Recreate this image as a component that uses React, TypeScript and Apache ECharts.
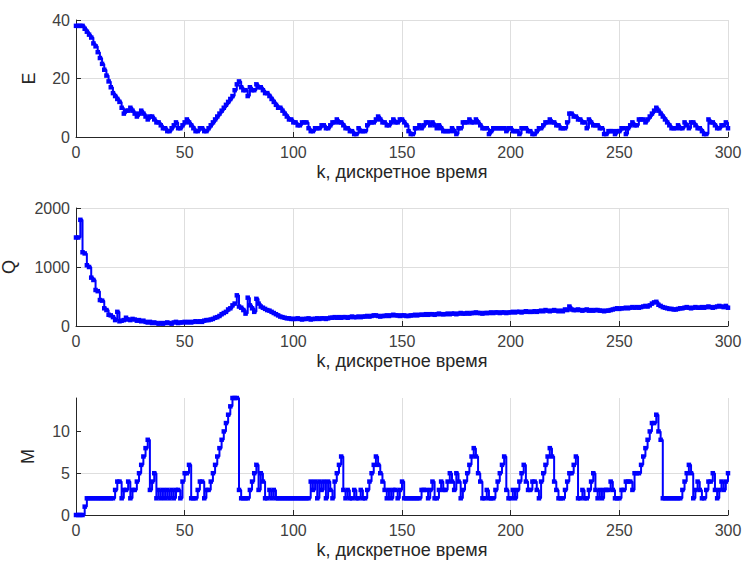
import React, { useEffect, useRef } from "react";
import * as echarts from "echarts";

// E(k), k = 0..300
const E: number[] = [
  38, 38, 38, 38, 37, 36, 35, 34, 32, 31,
  29, 27, 25, 23, 21, 19, 17, 15, 14, 13,
  12, 10, 8, 9, 9, 10, 9, 8, 7, 8,
  9, 8, 7, 6, 7, 7, 6, 5, 5, 4,
  3, 3, 2, 2, 3, 4, 5, 3, 3, 4,
  5, 6, 5, 4, 3, 2, 2, 3, 3, 2,
  2, 3, 4, 5, 6, 7, 8, 9, 10, 11,
  12, 13, 14, 16, 18, 19, 17, 16, 16, 14,
  17, 16, 16, 18, 17, 17, 16, 15, 15, 14,
  13, 12, 11, 10, 10, 9, 8, 7, 6, 6,
  5, 5, 4, 4, 5, 5, 5, 3, 2, 2,
  3, 3, 3, 4, 4, 3, 3, 4, 5, 5,
  6, 5, 5, 4, 3, 3, 2, 2, 1, 1,
  3, 2, 2, 2, 4, 5, 5, 5, 6, 7,
  6, 5, 5, 4, 4, 5, 6, 5, 5, 6,
  6, 5, 4, 2, 1, 1, 3, 3, 4, 3,
  4, 5, 5, 4, 5, 4, 3, 4, 3, 2,
  2, 2, 2, 3, 2, 1, 3, 3, 5, 5,
  5, 6, 5, 5, 6, 5, 4, 3, 3, 3,
  1, 2, 3, 3, 3, 3, 3, 3, 2, 3,
  3, 2, 2, 2, 1, 3, 3, 3, 2, 2,
  1, 1, 2, 3, 3, 4, 5, 5, 6, 5,
  5, 4, 4, 3, 3, 3, 5, 8, 8, 7,
  7, 6, 6, 5, 5, 3, 6, 5, 4, 4,
  4, 3, 3, 1, 1, 2, 2, 2, 1, 2,
  2, 3, 3, 1, 3, 4, 5, 4, 4, 6,
  6, 6, 5, 6, 7, 8, 9, 10, 9, 8,
  7, 6, 5, 4, 3, 3, 3, 4, 3, 3,
  5, 4, 3, 5, 5, 4, 3, 3, 2, 1,
  1, 6, 5, 5, 4, 3, 3, 4, 4, 5,
  3,
];

// Q(k), k = 0..300
const Q: number[] = [
  1500, 1500, 1800, 1250, 1230, 1030, 1000, 820, 780, 610,
  590, 440, 430, 300, 270, 190, 180, 150, 100, 240,
  80, 90, 100, 140, 110, 100, 120, 110, 90, 100,
  80, 90, 70, 60, 70, 50, 60, 50, 40, 50,
  40, 50, 60, 50, 40, 60, 70, 50, 60, 60,
  70, 60, 70, 60, 70, 80, 70, 80, 70, 90,
  100, 100, 110, 120, 140, 150, 170, 200, 220, 240,
  280, 300, 350, 380, 520, 330, 310, 270, 210, 480,
  350, 300, 240, 460, 380, 330, 310, 290, 270, 260,
  240, 220, 200, 180, 160, 150, 140, 130, 130, 120,
  120, 120, 130, 120, 110, 120, 120, 130, 110, 120,
  120, 130, 120, 130, 130, 120, 130, 140, 140, 150,
  140, 150, 140, 150, 150, 140, 150, 160, 150, 150,
  160, 150, 160, 160, 170, 160, 170, 180, 180, 170,
  160, 170, 170, 180, 170, 180, 190, 180, 180, 170,
  180, 180, 170, 170, 180, 180, 190, 180, 190, 190,
  190, 200, 190, 200, 200, 190, 200, 210, 200, 200,
  200, 210, 200, 210, 210, 200, 210, 220, 210, 210,
  220, 210, 220, 220, 230, 220, 220, 210, 220, 220,
  220, 230, 220, 230, 230, 220, 230, 230, 220, 230,
  230, 240, 230, 240, 240, 230, 240, 250, 240, 240,
  240, 250, 240, 250, 260, 250, 270, 260, 250, 260,
  270, 260, 250, 260, 250, 280, 270, 330, 280, 270,
  270, 280, 270, 260, 270, 280, 260, 270, 260, 270,
  270, 260, 260, 250, 260, 260, 270, 280, 290, 300,
  290, 300, 300, 310, 300, 310, 320, 310, 320, 310,
  320, 330, 340, 330, 350, 380, 400, 410, 360, 340,
  320, 310, 300, 290, 290, 280, 280, 290, 300, 300,
  310, 320, 310, 300, 310, 320, 310, 310, 320, 310,
  320, 330, 320, 310, 320, 330, 340, 330, 320, 340,
  310,
];

// M(k), k = 0..300
const M: number[] = [
  0, 0, 0, 0, 1, 2, 2, 2, 2, 2,
  2, 2, 2, 2, 2, 2, 2, 2, 3, 4,
  4, 2, 3, 3, 4, 2, 3, 3, 4, 5,
  6, 7, 8, 9, 3, 4, 5, 2, 3, 2,
  3, 2, 3, 2, 3, 2, 3, 3, 2, 4,
  5, 5, 6, 2, 2, 2, 3, 4, 4, 2,
  3, 3, 4, 5, 6, 7, 8, 9, 10, 11,
  12, 13, 14, 14, 14, 3, 2, 2, 2, 2,
  3, 4, 5, 6, 3, 5, 4, 2, 2, 3,
  2, 3, 2, 2, 2, 2, 2, 2, 2, 2,
  2, 2, 2, 2, 2, 2, 2, 2, 4, 3,
  4, 2, 4, 3, 4, 2, 4, 3, 2, 4,
  5, 6, 7, 3, 2, 3, 2, 2, 3, 2,
  2, 3, 2, 2, 3, 4, 5, 6, 7, 6,
  5, 4, 3, 2, 3, 2, 3, 3, 2, 3,
  4, 2, 2, 2, 2, 2, 2, 2, 2, 3,
  3, 3, 2, 3, 4, 2, 2, 3, 4, 3,
  3, 4, 5, 4, 3, 5, 4, 2, 3, 4,
  5, 6, 7, 8, 7, 5, 4, 2, 2, 3,
  2, 2, 2, 3, 4, 5, 6, 7, 3, 2,
  2, 3, 2, 3, 4, 5, 6, 4, 3, 3,
  4, 4, 3, 2, 4, 5, 6, 7, 8, 7,
  4, 3, 2, 2, 2, 3, 4, 5, 5, 6,
  7, 2, 2, 3, 2, 2, 3, 4, 5, 3,
  2, 3, 2, 3, 3, 3, 4, 3, 2, 2,
  2, 3, 3, 4, 4, 4, 3, 5, 5, 5,
  6, 7, 8, 9, 10, 11, 11, 12, 10, 9,
  2, 2, 2, 2, 2, 2, 2, 2, 2, 3,
  4, 5, 6, 5, 2, 3, 4, 3, 2, 2,
  3, 4, 4, 5, 3, 2, 3, 4, 3, 4,
  5,
];

const X_TICKS = [0, 50, 100, 150, 200, 250, 300];
const X_TITLE = "k, дискретное время";
const Y_TITLES = ["E", "Q", "M"];
const Y_MAX = [40, 2000, 14];
const Y_INTERVAL = [20, 1000, 5];
const Y_TICKS = [[0, 20, 40], [0, 1000, 2000], [0, 5, 10]];

const FONT = "'Liberation Sans', Arial, Helvetica, sans-serif";
const LINE_COLOR = "#0000ff";
const AXIS_COLOR = "#262626";
const LABEL_COLOR = "#404040";
const GRID_COLOR = "#dedede";

export default function App() {
  const ref = useRef<HTMLDivElement>(null);
  useEffect(() => {
    if (!ref.current) return;
    const chart = echarts.init(ref.current, undefined, { renderer: "svg" });
    const tops = [20, 208, 398];
    const heights = [117, 118, 117];
    const nameGaps = [38, 58, 39];
    const series = [E, Q, M];

    const option: any = {
      animation: false,
      backgroundColor: "#ffffff",
      grid: tops.map((t, i) => ({
        left: 76,
        top: t,
        width: 652,
        height: heights[i],
        containLabel: false,
        outerBoundsMode: "none",
      })),
      xAxis: tops.map((_, i) => ({
        type: "value",
        gridIndex: i,
        min: 0,
        max: 300,
        interval: 50,
        name: X_TITLE,
        nameLocation: "middle",
        nameGap: 26,
        nameMoveOverlap: false,
        nameTextStyle: { fontFamily: FONT, fontSize: 18, color: AXIS_COLOR },
        axisLine: { show: true, lineStyle: { color: AXIS_COLOR, width: 1 } },
        axisTick: { show: true, inside: true, length: 5, lineStyle: { color: AXIS_COLOR }, customValues: X_TICKS },
        axisLabel: {
          fontFamily: FONT,
          fontSize: 16,
          color: LABEL_COLOR,
          margin: 7,
          customValues: X_TICKS,
          formatter: (v: number) => String(v),
        },
        splitLine: { show: true, lineStyle: { color: GRID_COLOR, width: 1 } },
      })),
      yAxis: tops.map((_, i) => ({
        type: "value",
        gridIndex: i,
        min: 0,
        max: Y_MAX[i],
        interval: Y_INTERVAL[i],
        name: Y_TITLES[i],
        nameLocation: "middle",
        nameGap: nameGaps[i],
        nameRotate: 90,
        nameMoveOverlap: false,
        nameTextStyle: { fontFamily: FONT, fontSize: 18, color: AXIS_COLOR },
        axisLine: { show: true, lineStyle: { color: AXIS_COLOR, width: 1 } },
        axisTick: { show: true, inside: true, length: 5, lineStyle: { color: AXIS_COLOR }, customValues: Y_TICKS[i] },
        axisLabel: {
          fontFamily: FONT,
          fontSize: 16,
          color: LABEL_COLOR,
          margin: 6,
          customValues: Y_TICKS[i],
          formatter: (v: number) => String(v),
        },
        splitLine: { show: true, showMaxLine: i < 2, lineStyle: { color: GRID_COLOR, width: 1 } },
      })),
      series: series.map((arr, i) => ({
        type: "line",
        xAxisIndex: i,
        yAxisIndex: i,
        step: "end",
        data: arr.map((v, k) => [k, v]),
        symbol: "rect",
        symbolSize: 4.5,
        showAllSymbol: true,
        itemStyle: { color: LINE_COLOR },
        lineStyle: { color: LINE_COLOR, width: 2 },
        clip: false,
      })),
    };
    chart.setOption(option);
    return () => chart.dispose();
  }, []);
  return (
    <div
      ref={ref}
      style={{ position: "absolute", left: 0, top: 0, width: 742, height: 565, background: "#fff" }}
    />
  );
}
